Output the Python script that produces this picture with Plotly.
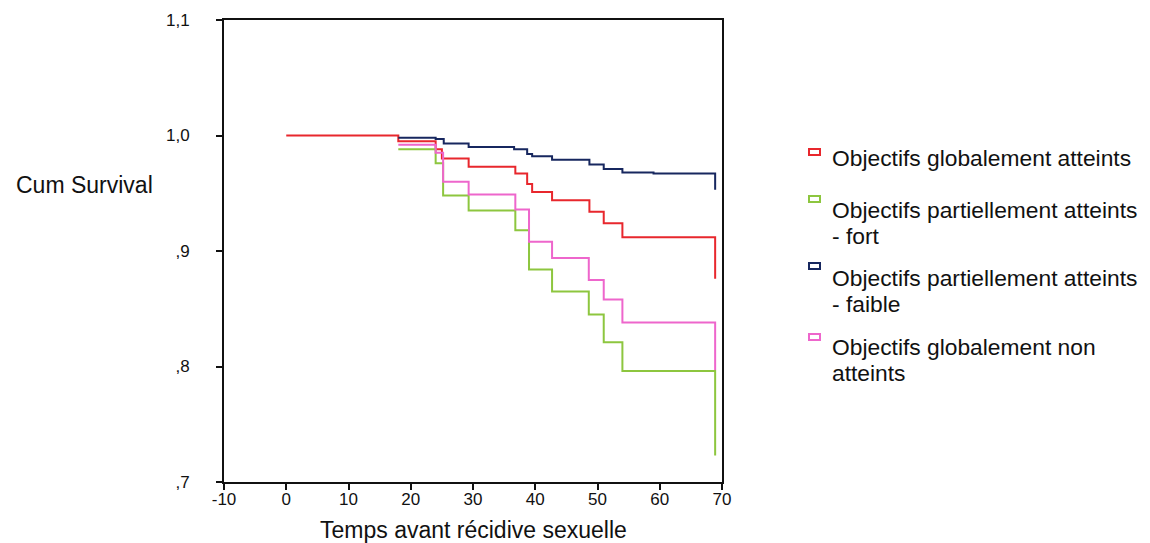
import plotly.graph_objects as go

# ---------------- data ----------------
series_names = [
    "Objectifs globalement atteints",
    "Objectifs partiellement atteints<br>- fort",
    "Objectifs partiellement atteints<br>- faible",
    "Objectifs globalement non<br>atteints",
]

t_global_atteints = [0, 18, 24, 25, 29.3, 36.8, 38.7, 39.5, 42.7, 48.7, 51, 54, 68.9]
s_global_atteints = [1.0, 0.995, 0.988, 0.980, 0.973, 0.967, 0.958, 0.951, 0.944, 0.934, 0.924, 0.912, 0.876]

t_partiel_fort = [18, 24, 25.2, 29.3, 36.8, 39.0, 42.7, 48.6, 51, 54, 68.9]
s_partiel_fort = [0.988, 0.976, 0.948, 0.935, 0.918, 0.884, 0.865, 0.845, 0.821, 0.796, 0.723]

t_partiel_faible = [18, 24, 25.3, 29.3, 36.6, 38.7, 39.5, 42.7, 48.7, 51, 54, 59, 68.9]
s_partiel_faible = [0.998, 0.997, 0.993, 0.990, 0.988, 0.984, 0.982, 0.979, 0.975, 0.971, 0.968, 0.967, 0.953]

t_global_non = [18, 24, 25.2, 29.3, 36.8, 39.0, 42.7, 48.6, 51, 54, 68.9]
s_global_non = [0.992, 0.985, 0.960, 0.949, 0.936, 0.908, 0.894, 0.875, 0.858, 0.838, 0.797]

x_ticks = [-10, 0, 10, 20, 30, 40, 50, 60, 70]
y_ticks = [0.7, 0.8, 0.9, 1.0, 1.1]
y_ticktext = [",7", ",8", ",9", "1,0", "1,1"]

x_title = "Temps avant récidive sexuelle"
y_title = "Cum Survival"

colors = ["#e8272d", "#8dc63f", "#17275f", "#ee66cc"]

# ---------------- figure ----------------
OFF = 8                      # page body margin
W, H = 1150 - 2 * OFF, 543 - OFF
# plot frame in page pixels: x 224..722, y 20..482
L, T = 224 - OFF, 20 - OFF
R = W - (722 - OFF)
B = H - (482 - OFF)
PW, PH = W - L - R, H - T - B
FONT = "Arial, Liberation Sans, sans-serif"


def px_x(p):
    return (p - OFF - L) / PW


def px_y(p):
    return 1 - (p - OFF - T) / PH


fig = go.Figure()
series = [
    (t_global_atteints, s_global_atteints),
    (t_partiel_fort, s_partiel_fort),
    (t_partiel_faible, s_partiel_faible),
    (t_global_non, s_global_non),
]
for (tx, sy), name, col in zip(series, series_names, colors):
    fig.add_trace(go.Scatter(
        x=tx, y=sy, mode="lines", line=dict(color=col, width=2, shape="hv"),
        name=name.replace("<br>", " "), showlegend=False,
    ))

fig.update_layout(
    width=W, height=H,
    margin=dict(l=L, r=R, t=T, b=B, autoexpand=False),
    paper_bgcolor="white", plot_bgcolor="white",
    font=dict(family=FONT, color="#111111"),
    showlegend=False,
)
fig.update_xaxes(
    range=[-10, 70], tickvals=x_ticks, ticktext=[str(v) for v in x_ticks],
    showline=True, linecolor="#111111", linewidth=2, mirror=True,
    ticks="outside", ticklen=6, tickwidth=2, tickcolor="#111111",
    showgrid=False, zeroline=False, tickfont=dict(size=17, family=FONT),
    automargin=False, ticklabelstandoff=-5,
)
fig.update_yaxes(
    range=[0.7, 1.1], tickvals=y_ticks, ticktext=y_ticktext,
    showline=True, linecolor="#111111", linewidth=2, mirror=True,
    ticks="outside", ticklen=6, tickwidth=2, tickcolor="#111111",
    showgrid=False, zeroline=False, tickfont=dict(size=17, family=FONT),
    ticklabelstandoff=23, automargin=False,
)

# axis titles
fig.add_annotation(
    text=x_title, xref="paper", yref="paper", x=px_x(473), y=px_y(530),
    xanchor="center", yanchor="middle", showarrow=False,
    font=dict(size=23, family=FONT, color="#111111"),
)
fig.add_annotation(
    text=y_title, xref="paper", yref="paper", x=px_x(14), y=px_y(185),
    xanchor="left", yanchor="middle", showarrow=False,
    font=dict(size=23, family=FONT, color="#111111"),
)

# legend (manual)
legend_first_line = [158, 210, 278, 347]
legend_marker_y = [152, 199, 266, 337]
line_step = 26
for name, col, y0, my in zip(series_names, colors, legend_first_line, legend_marker_y):
    for i, ln in enumerate(name.split("<br>")):
        fig.add_annotation(
            text=ln, xref="paper", yref="paper", x=px_x(830), y=px_y(y0 + i * line_step),
            xanchor="left", yanchor="middle", showarrow=False,
            font=dict(size=22.8, family=FONT, color="#111111"),
        )
    fig.add_shape(
        type="rect", xref="paper", yref="paper",
        x0=px_x(809), x1=px_x(820), y0=px_y(my - 3), y1=px_y(my + 3),
        line=dict(color=col, width=2), fillcolor="white",
    )

fig.write_html("out.html")
